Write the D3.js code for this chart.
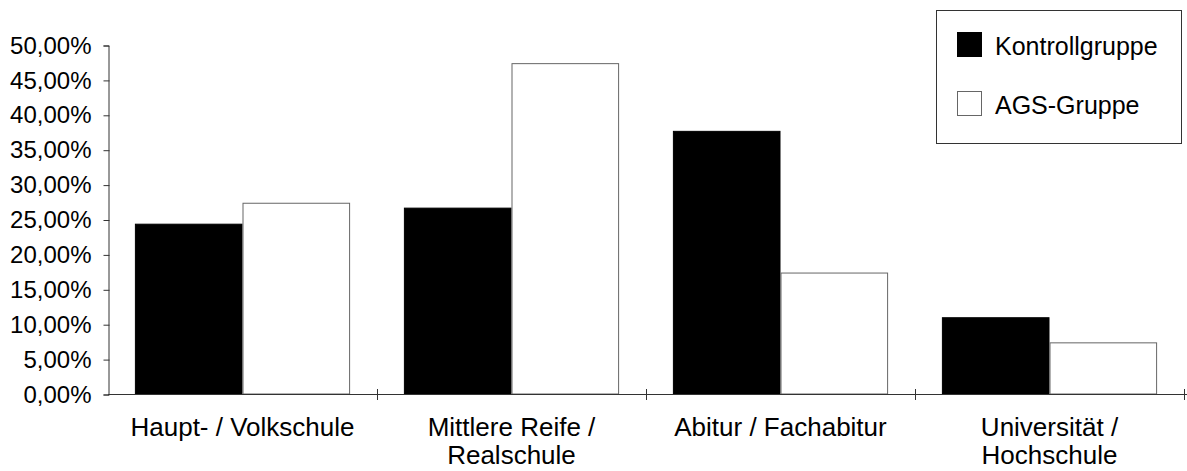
<!DOCTYPE html>
<html>
<head>
<meta charset="utf-8">
<script src="https://cdn.jsdelivr.net/npm/d3@7"></script>
<style>
  html, body { margin: 0; padding: 0; background: #fff; }
  svg { display: block; font-family: "Liberation Sans", Arial, sans-serif; }
</style>
</head>
<body>
<svg id="chart" width="1187" height="471"></svg>
<script>
// Bildungsabschluss nach Gruppe (Anteile in %)
const categories = [
  ["Haupt- / Volkschule"],
  ["Mittlere Reife /", "Realschule"],
  ["Abitur / Fachabitur"],
  ["Universität /", "Hochschule"]
];
const seriesNames = ["Kontrollgruppe", "AGS-Gruppe"];
const kontrollgruppe = [24.4, 26.7, 37.7, 11.0];
const agsGruppe = [27.4, 47.4, 17.4, 7.4];
const yTicks = [0, 5, 10, 15, 20, 25, 30, 35, 40, 45, 50];

const seriesValues = [kontrollgruppe, agsGruppe];
const fills = ["#000000", "#ffffff"];
const strokes = ["#000000", "#666666"];

(function draw() {
  const svg = d3.select("#chart");
  const plotLeft = 108, plotRight = 1184, plotTop = 45, plotBottom = 394;

  // one slot per category; the two bars fill the middle 80% of each slot
  const slot = d3.scaleBand().domain(d3.range(categories.length)).range([plotLeft, plotRight]);
  const x1 = d3.scaleBand().domain(d3.range(seriesNames.length)).range([0, slot.bandwidth() * 0.8]);
  const y = d3.scaleLinear().domain([0, 50]).range([plotBottom, plotTop]);

  // Bars
  seriesNames.forEach((name, s) => {
    svg.append("g").selectAll("rect")
      .data(seriesValues[s])
      .join("rect")
      .attr("x", (d, i) => slot(i) + slot.bandwidth() * 0.1 + x1(s) + 0.5)
      .attr("y", d => y(d) + 0.5)
      .attr("width", x1.bandwidth() - 1)
      .attr("height", d => plotBottom - y(d) - 0.5)
      .attr("fill", fills[s])
      .attr("stroke", strokes[s])
      .attr("stroke-width", 1);
  });

  // Y axis
  const yAxis = d3.axisLeft(y)
    .tickValues(yTicks)
    .tickSize(5)
    .tickPadding(12)
    .tickFormat(d => d3.format(".2f")(d).replace(".", ",") + "%");
  const gy = svg.append("g").attr("transform", `translate(${plotLeft + 0.5},0.5)`).call(yAxis);
  gy.select(".domain").attr("stroke", "#333");
  gy.selectAll(".tick line").attr("stroke", "#333").attr("x2", -5).attr("x1", 1);
  gy.selectAll(".tick text").attr("font-size", 24).attr("fill", "#000")
    .attr("font-family", "Liberation Sans, Arial, sans-serif");

  // X axis line and category separators
  const gx = svg.append("g");
  gx.append("line")
    .attr("x1", plotLeft).attr("x2", plotRight + 3)
    .attr("y1", plotBottom + 0.5).attr("y2", plotBottom + 0.5)
    .attr("stroke", "#333");
  const boundaries = d3.range(categories.length).map(i => slot(i) + slot.bandwidth());
  gx.selectAll("line.sep")
    .data(boundaries)
    .join("line")
    .attr("class", "sep")
    .attr("x1", d => Math.round(d) + 0.5).attr("x2", d => Math.round(d) + 0.5)
    .attr("y1", plotBottom - 5).attr("y2", plotBottom + 6)
    .attr("stroke", "#333");

  // Category labels
  const labels = svg.append("g").selectAll("text")
    .data(categories)
    .join("text")
    .attr("text-anchor", "middle")
    .attr("font-size", 26)
    .attr("fill", "#000");
  labels.each(function(lines, i) {
    const t = d3.select(this);
    lines.forEach((ln, k) => {
      t.append("tspan")
        .attr("x", slot(i) + slot.bandwidth() / 2)
        .attr("y", 436 + k * 28)
        .text(ln);
    });
  });

  // Legend
  const legend = svg.append("g");
  legend.append("rect")
    .attr("x", 936.5).attr("y", 10.5).attr("width", 245).attr("height", 133)
    .attr("fill", "#fff").attr("stroke", "#333");
  seriesNames.forEach((name, s) => {
    legend.append("rect")
      .attr("x", 957.5).attr("y", 32.5 + s * 59).attr("width", 24).attr("height", 24)
      .attr("fill", fills[s]).attr("stroke", strokes[s]);
    legend.append("text")
      .attr("x", 995).attr("y", 55 + s * 59)
      .attr("font-size", 25)
      .attr("fill", "#000")
      .text(name);
  });
})();
</script>
</body>
</html>
